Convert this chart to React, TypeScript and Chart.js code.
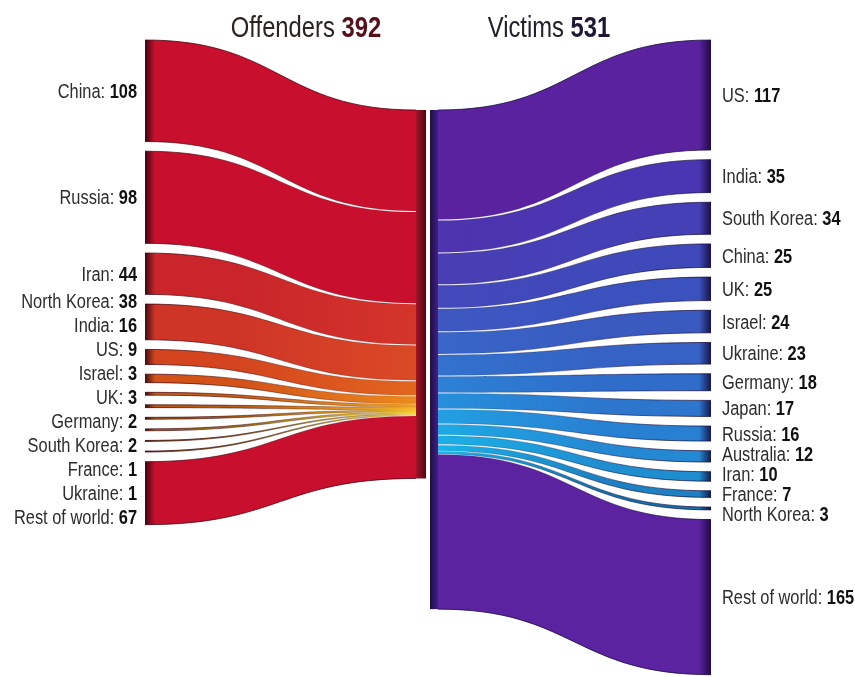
import React, { useEffect, useRef } from 'react';
import { Chart, registerables } from 'chart.js';

Chart.register(...registerables);

// ---------- data ----------
const offenderNames = ['China', 'Russia', 'Iran', 'North Korea', 'India', 'US', 'Israel', 'UK', 'Germany', 'South Korea', 'France', 'Ukraine', 'Rest of world'];
const offenderValues = [108, 98, 44, 38, 16, 9, 3, 3, 2, 2, 1, 1, 67];
const victimNames = ['US', 'India', 'South Korea', 'China', 'UK', 'Israel', 'Ukraine', 'Germany', 'Japan', 'Russia', 'Australia', 'Iran', 'France', 'North Korea', 'Rest of world'];
const victimValues = [117, 35, 34, 25, 25, 24, 23, 18, 17, 16, 12, 10, 7, 3, 165];
const offenderTitle = 'Offenders';
const victimTitle = 'Victims';

// ---------- styles ----------
const offenderColors: [string, string][] = [
  ['#C8102E', '#C8102E'],
  ['#C8102E', '#C8102E'],
  ['#C9252B', '#D4352A'],
  ['#CF3527', '#DA4A25'],
  ['#D4451F', '#E2661E'],
  ['#D25218', '#EC8A1E'],
  ['#C85A14', '#F2A526'],
  ['#B85A12', '#F6B82A'],
  ['#A86014', '#F9C832'],
  ['#987016', '#FBD63A'],
  ['#8A7018', '#FDE044'],
  ['#807018', '#FFE84E'],
  ['#C8102E', '#C8102E'],
];
const victimColors: [string, string][] = [
  ['#5B22A0', '#5B22A0'],
  ['#4E34AE', '#4A36B2'],
  ['#4A3EB4', '#4540B6'],
  ['#4448BA', '#3F49B9'],
  ['#3E58C2', '#3B52BE'],
  ['#3866C8', '#3A5AC0'],
  ['#3272CE', '#3562C4'],
  ['#2C82D6', '#306CCA'],
  ['#2690DC', '#2C76CE'],
  ['#22A0E2', '#2880D2'],
  ['#1EAAE6', '#2488D2'],
  ['#1CB0E8', '#1F8ED0'],
  ['#1AB4EA', '#1C80C2'],
  ['#18B6EA', '#1470A8'],
  ['#5C23A0', '#5C23A0'],
];

// ---------- layout ----------
const W = 855;
const H = 677;
const K = 0.94; // px per unit
const TOP_PX = 40;
const Y_MIN = -TOP_PX / K;
const Y_MAX = (H - TOP_PX) / K;
const GAP = 10.3; // units
const MID_START = (110 - TOP_PX) / K;
const X_OFF_OUT = 145;
const X_OFF_MID = 416;
const X_OFF_BAR_END = 426;
const X_VIC_BAR = 430;
const X_VIC_MID = 438;
const X_VIC_OUT = 711;
const LEFT_LABEL_X = 137;
const RIGHT_LABEL_X = 722;
const TITLE_Y = 37;

function stack(values: number[], start: number, gap: number): [number, number][] {
  let y = start;
  return values.map((v) => {
    const a = y;
    y += v;
    const r: [number, number] = [a, y];
    y += gap;
    return r;
  });
}

function placeLabels(desired: number[], spacing: number): number[] {
  type C = { start: number; end: number; top: number };
  const cl: C[] = [];
  const fit = (s: number, e: number) => {
    let sum = 0;
    for (let k = s; k <= e; k++) sum += desired[k] - (k - s) * spacing;
    return sum / (e - s + 1);
  };
  desired.forEach((_, i) => {
    let c: C = { start: i, end: i, top: desired[i] };
    while (cl.length) {
      const p = cl[cl.length - 1];
      const pBottom = p.top + (p.end - p.start) * spacing;
      if (c.top - pBottom < spacing) {
        cl.pop();
        c = { start: p.start, end: c.end, top: fit(p.start, c.end) };
      } else break;
    }
    cl.push(c);
  });
  const out: number[] = [];
  cl.forEach((c) => {
    for (let k = c.start; k <= c.end; k++) out[k] = c.top + (k - c.start) * spacing;
  });
  return out;
}

function bandPath(ctx: CanvasRenderingContext2D, xa: number, xb: number, a0: number, a1: number, b0: number, b1: number) {
  const xm = (xa + xb) / 2;
  ctx.beginPath();
  ctx.moveTo(xa, a0);
  ctx.bezierCurveTo(xm, a0, xm, b0, xb, b0);
  ctx.lineTo(xb, b1);
  ctx.bezierCurveTo(xm, b1, xm, a1, xa, a1);
  ctx.closePath();
}

function edge(ctx: CanvasRenderingContext2D, xa: number, ya: number, xb: number, yb: number) {
  const xm = (xa + xb) / 2;
  ctx.beginPath();
  ctx.moveTo(xa, ya);
  ctx.bezierCurveTo(xm, ya, xm, yb, xb, yb);
  ctx.stroke();
}

type Part = { text: string; bold: boolean; color: string };

const sankeyPlugin = {
  id: 'sankeyBands',
  afterDraw(chart: any) {
    const ctx: CanvasRenderingContext2D = chart.ctx;
    const xs = chart.scales.x;
    const ys = chart.scales.y;
    const px = (v: number) => xs.getPixelForValue(v);
    const py = (u: number) => ys.getPixelForValue(u);

    // font detection
    ctx.save();
    ctx.font = '20px "Liberation Sans Narrow", monospace';
    const w1 = ctx.measureText('Offenders 392 China: 108').width;
    ctx.font = '20px monospace';
    const w2 = ctx.measureText('Offenders 392 China: 108').width;
    ctx.restore();
    const narrow = Math.abs(w1 - w2) > 1;
    const family = narrow ? '"Liberation Sans Narrow", sans-serif' : '"Liberation Sans", Arial, sans-serif';
    const sx = narrow ? 1 : 0.82;

    const drawRich = (parts: Part[], x: number, y: number, align: 'left' | 'right' | 'center', size: number) => {
      ctx.save();
      ctx.textBaseline = 'alphabetic';
      ctx.textAlign = 'left';
      const widths = parts.map((p) => {
        ctx.font = `${p.bold ? 'bold ' : ''}${size}px ${family}`;
        return ctx.measureText(p.text).width;
      });
      const total = widths.reduce((a, b) => a + b, 0) * sx;
      const x0 = align === 'left' ? x : align === 'right' ? x - total : x - total / 2;
      ctx.translate(x0, y);
      ctx.scale(sx, 1);
      let off = 0;
      parts.forEach((p, i) => {
        ctx.font = `${p.bold ? 'bold ' : ''}${size}px ${family}`;
        ctx.fillStyle = p.color;
        ctx.fillText(p.text, off, 0);
        off += widths[i];
      });
      ctx.restore();
    };

    // ---------- offender flows ----------
    const offOuter = stack(offenderValues, 0, GAP);
    const offMid = stack(offenderValues, MID_START, 0);
    const xa = px(X_OFF_OUT);
    const xb = px(X_OFF_MID);
    const nO = offenderValues.length;
    offOuter.forEach((o, i) => {
      const a0 = py(o[0]);
      const a1 = py(o[1]);
      const big = offenderValues[i] >= 5;
      const b0 = py(offMid[i][0]) + (i > 0 && big ? 0.5 : 0);
      const b1 = py(offMid[i][1]) - (i < nO - 1 && big ? 0.5 : 0);
      ctx.save();
      const g = ctx.createLinearGradient(xa, 0, xb, 0);
      g.addColorStop(0, offenderColors[i][0]);
      g.addColorStop(0.35, offenderColors[i][0]);
      g.addColorStop(1, offenderColors[i][1]);
      bandPath(ctx, xa, xb, a0, a1, b0, b1);
      ctx.fillStyle = g;
      ctx.fill();
      const sh = ctx.createLinearGradient(xa, 0, xa + 10, 0);
      sh.addColorStop(0, 'rgba(45,0,10,0.85)');
      sh.addColorStop(1, 'rgba(45,0,10,0)');
      ctx.fillStyle = sh;
      ctx.fill();
      ctx.lineWidth = 1;
      const inner = ctx.createLinearGradient(xa, 0, xb, 0);
      inner.addColorStop(0, 'rgba(60,0,12,0.75)');
      inner.addColorStop(1, 'rgba(60,0,12,0.05)');
      ctx.strokeStyle = i === 0 ? 'rgba(60,0,12,0.75)' : inner;
      edge(ctx, xa, a0, xb, b0);
      ctx.strokeStyle = i === nO - 1 ? 'rgba(60,0,12,0.75)' : inner;
      edge(ctx, xa, a1, xb, b1);
      ctx.restore();
    });

    // offender node bar
    const offTotal = offenderValues.reduce((a, b) => a + b, 0);
    {
      const x0 = px(X_OFF_MID);
      const x1 = px(X_OFF_BAR_END);
      const g = ctx.createLinearGradient(x0, 0, x1, 0);
      g.addColorStop(0, '#9C1628');
      g.addColorStop(0.5, '#7A0F1F');
      g.addColorStop(1, '#4E0812');
      ctx.fillStyle = g;
      ctx.fillRect(x0, py(MID_START), x1 - x0, py(MID_START + offTotal) - py(MID_START));
    }

    // victim node bar
    const vicTotal = victimValues.reduce((a, b) => a + b, 0);
    {
      const x0 = px(X_VIC_BAR);
      const x1 = px(X_VIC_MID);
      const g = ctx.createLinearGradient(x0, 0, x1, 0);
      g.addColorStop(0, '#1E0C46');
      g.addColorStop(1, '#3E2088');
      ctx.fillStyle = g;
      ctx.fillRect(x0, py(MID_START), x1 - x0, py(MID_START + vicTotal) - py(MID_START));
    }

    // ---------- victim flows ----------
    const vicMid = stack(victimValues, MID_START, 0);
    const vicOuter = stack(victimValues, 0, GAP);
    const va = px(X_VIC_MID);
    const vb = px(X_VIC_OUT);
    const nV = victimValues.length;
    vicOuter.forEach((o, i) => {
      const big = victimValues[i] >= 5;
      const a0 = py(vicMid[i][0]) + (i > 0 && big ? 0.5 : 0);
      const a1 = py(vicMid[i][1]) - (i < nV - 1 && big ? 0.5 : 0);
      const b0 = py(o[0]);
      const b1 = py(o[1]);
      ctx.save();
      const g = ctx.createLinearGradient(va, 0, vb, 0);
      g.addColorStop(0, victimColors[i][0]);
      g.addColorStop(0.6, victimColors[i][1]);
      g.addColorStop(1, victimColors[i][1]);
      bandPath(ctx, va, vb, a0, a1, b0, b1);
      ctx.fillStyle = g;
      ctx.fill();
      const sh = ctx.createLinearGradient(vb - 12, 0, vb, 0);
      sh.addColorStop(0, 'rgba(20,8,50,0)');
      sh.addColorStop(1, 'rgba(20,8,50,0.85)');
      ctx.fillStyle = sh;
      ctx.fill();
      ctx.lineWidth = 1;
      const inner = ctx.createLinearGradient(va, 0, vb, 0);
      inner.addColorStop(0, 'rgba(20,10,60,0.05)');
      inner.addColorStop(1, 'rgba(20,10,60,0.75)');
      ctx.strokeStyle = i === 0 ? 'rgba(20,10,60,0.75)' : inner;
      edge(ctx, va, a0, vb, b0);
      ctx.strokeStyle = i === nV - 1 ? 'rgba(20,10,60,0.75)' : inner;
      edge(ctx, va, a1, vb, b1);
      ctx.restore();
    });

    // ---------- labels ----------
    const leftCenters = offOuter.map((o) => py((o[0] + o[1]) / 2));
    const leftY = placeLabels(leftCenters, 24);
    offenderNames.forEach((n, i) => {
      drawRich(
        [
          { text: `${n}: `, bold: false, color: '#2d2d2d' },
          { text: String(offenderValues[i]), bold: true, color: '#111111' },
        ],
        px(LEFT_LABEL_X), leftY[i] + 7, 'right', 20,
      );
    });
    const rightCenters = vicOuter.map((o) => py((o[0] + o[1]) / 2));
    const rightY = placeLabels(rightCenters, 20);
    victimNames.forEach((n, i) => {
      drawRich(
        [
          { text: `${n}: `, bold: false, color: '#2d2d2d' },
          { text: String(victimValues[i]), bold: true, color: '#111111' },
        ],
        px(RIGHT_LABEL_X), rightY[i] + 7, 'left', 20,
      );
    });

    // ---------- titles ----------
    drawRich(
      [
        { text: `${offenderTitle} `, bold: false, color: '#2b2222' },
        { text: String(offTotal), bold: true, color: '#561019' },
      ],
      px(306), TITLE_Y, 'center', 29,
    );
    drawRich(
      [
        { text: `${victimTitle} `, bold: false, color: '#22202a' },
        { text: String(vicTotal), bold: true, color: '#1f1733' },
      ],
      px(549), TITLE_Y, 'center', 29,
    );
  },
};

export default function App() {
  const ref = useRef<HTMLCanvasElement>(null);
  useEffect(() => {
    if (!ref.current) return;
    const chart = new Chart(ref.current, {
      type: 'scatter',
      data: { datasets: [] },
      options: {
        animation: false,
        responsive: true,
        maintainAspectRatio: false,
        events: [],
        layout: { padding: 0 },
        plugins: { legend: { display: false }, tooltip: { enabled: false } },
        scales: {
          x: { type: 'linear', min: 0, max: W, display: false },
          y: { type: 'linear', min: Y_MIN, max: Y_MAX, reverse: true, display: false },
        },
      },
      plugins: [sankeyPlugin],
    } as any);
    return () => chart.destroy();
  }, []);
  return (
    <div style={{ position: 'fixed', left: 0, top: 0, width: W, height: H, background: '#ffffff' }}>
      <canvas ref={ref} />
    </div>
  );
}
